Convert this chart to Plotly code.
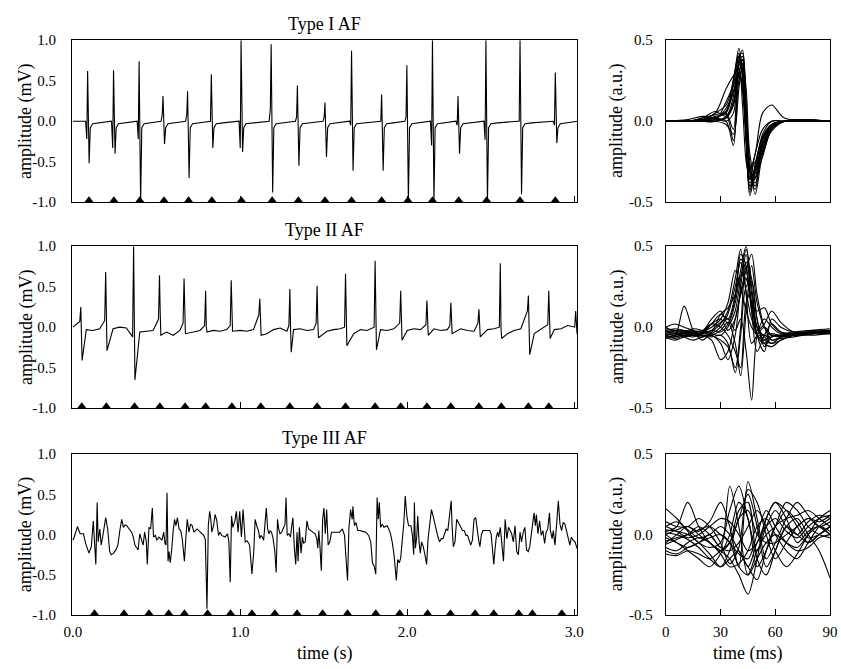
import numpy as np
import plotly.graph_objects as go

FONT = "Liberation Serif"

# ---------------- Type I AF (left) ----------------
t1_beats = [0.088, 0.243, 0.396, 0.539, 0.686, 0.828, 1.006, 1.186, 1.343, 1.508,
            1.667, 1.847, 1.998, 2.151, 2.304, 2.471, 2.675, 2.886]
t1_peak = [0.62, 0.63, 0.74, 0.31, 0.37, 0.58, 1.0, 0.95, 0.44, 0.23,
           0.87, 0.33, 0.69, 1.0, 0.31, 1.0, 1.0, 0.60]
t1_trough = [-0.52, -0.40, -1.0, -0.28, -0.70, -0.33, -0.38, -0.88, -0.55, -0.44,
             -0.61, -0.61, -1.0, -1.0, -0.40, -1.0, -0.90, -0.27]
t1_pre = [-0.22, -0.33, -0.22, 0.07, 0.08, 0.0, -0.33, 0.15, 0.05, 0.05,
          -0.05, 0.0, 0.05, -0.30, -0.05, -0.23, 0.0, -0.05]
t1_tail = [-0.08, -0.03, -0.02]
t1_marks = [0.096, 0.245, 0.400, 0.545, 0.692, 0.831, 1.008, 1.192, 1.349, 1.508,
            1.667, 1.847, 2.004, 2.151, 2.308, 2.475, 2.675, 2.886]

# ---------------- Type II AF (left) ----------------
t2_beats = [0.047, 0.196, 0.363, 0.518, 0.665, 0.794, 0.947, 1.118, 1.298, 1.461,
            1.631, 1.808, 1.961, 2.118, 2.261, 2.429, 2.557, 2.725, 2.847, 3.008]
t2_peak = [0.25, 0.68, 1.0, 0.64, 0.60, 0.45, 0.58, 0.35, 0.47, 0.51,
           0.66, 0.82, 0.45, 0.33, 0.30, 0.22, 0.79, 0.39, 0.45, 0.20]
t2_trough = [-0.41, -0.29, -0.65, -0.10, -0.08, -0.06, -0.05, -0.10, -0.31, -0.13,
             -0.23, -0.28, -0.16, -0.10, -0.08, -0.12, -0.14, -0.34, -0.14, -0.08]
t2_shoulder = [0.0, 0.10, 0.0, 0.20, 0.18, 0.0, 0.0, -0.05, 0.0, 0.08,
               0.03, 0.10, 0.0, 0.03, 0.06, 0.05, 0.0, 0.05, 0.10, 0.0]
t2_pre = [0.07, 0.08, -0.12, 0.10, 0.05, 0.02, 0.02, 0.15, 0.02, 0.05,
          0.0, 0.0, 0.05, 0.03, 0.02, 0.05, 0.0, 0.20, 0.03, 0.0]
t2_baseline = [0.00, 0.05, -0.03, -0.04, -0.02, -0.02, -0.02, 0.00, -0.01, -0.03,
               -0.06, -0.05, -0.04, -0.03, -0.06, -0.10, -0.04, -0.03, -0.06, -0.04,
               -0.03, -0.04, -0.05, -0.03, -0.03, -0.04, -0.05, -0.03, -0.03, -0.08,
               -0.03, -0.01, -0.05, -0.03, -0.02, -0.04, -0.03, -0.03, -0.05, -0.03,
               -0.02, -0.03, -0.08, -0.03, -0.04, -0.03, -0.03, -0.04, -0.02, -0.03,
               -0.04, -0.02, -0.03, -0.03, -0.02, -0.04, -0.03, -0.01, -0.02, -0.04,
               -0.05, -0.06, -0.03, -0.02, -0.03, -0.08, -0.04, -0.02, -0.03, -0.08,
               -0.03, -0.03, -0.03, -0.02, 0.02, -0.06]
t2_marks = [0.053, 0.200, 0.369, 0.520, 0.671, 0.794, 0.951, 1.124, 1.298, 1.461,
            1.631, 1.808, 1.961, 2.118, 2.261, 2.429, 2.563, 2.725, 2.847]

# ---------------- Type III AF (left) : (time s, amplitude mV) ----------------
t3_points = [
    (0.000, -0.07), (0.008, -0.03), (0.027, 0.10), (0.043, 0.01), (0.063, 0.01), (0.076, -0.11),
    (0.096, -0.23), (0.110, -0.15), (0.122, 0.17), (0.129, -0.05), (0.137, -0.37), (0.145, 0.40),
    (0.151, -0.09), (0.161, 0.07), (0.169, -0.13), (0.178, -0.03), (0.184, 0.07), (0.196, 0.21),
    (0.208, 0.07), (0.220, -0.21), (0.229, -0.25), (0.243, -0.23), (0.257, -0.19), (0.269, -0.13),
    (0.282, 0.07), (0.292, 0.19), (0.302, 0.09), (0.312, 0.12), (0.322, 0.11), (0.337, 0.07),
    (0.351, 0.03), (0.361, -0.03), (0.371, -0.13), (0.380, -0.16), (0.390, -0.19), (0.400, 0.01),
    (0.410, -0.05), (0.420, -0.13), (0.429, 0.03), (0.439, -0.09), (0.445, -0.37), (0.455, 0.09),
    (0.465, 0.07), (0.475, 0.33), (0.482, -0.03), (0.494, -0.01), (0.502, -0.07), (0.514, -0.03),
    (0.524, -0.05), (0.533, -0.07), (0.543, 0.03), (0.551, -0.11), (0.557, -0.13), (0.563, 0.52),
    (0.569, -0.33), (0.575, -0.21), (0.582, -0.35), (0.590, -0.21), (0.600, 0.05), (0.608, 0.19),
    (0.616, 0.11), (0.625, 0.21), (0.635, 0.07), (0.645, 0.05), (0.655, -0.07), (0.667, -0.33),
    (0.676, -0.03), (0.684, 0.19), (0.694, 0.03), (0.704, 0.13), (0.714, 0.11), (0.724, 0.03),
    (0.733, 0.05), (0.743, 0.07), (0.753, 0.05), (0.763, 0.03), (0.773, 0.01), (0.782, -0.01),
    (0.792, -0.06), (0.802, -0.92), (0.810, 0.11), (0.818, 0.29), (0.825, 0.19), (0.831, 0.03),
    (0.841, 0.11), (0.851, 0.25), (0.861, 0.17), (0.871, -0.01), (0.880, 0.03), (0.890, -0.01),
    (0.910, -0.03), (0.925, 0.01), (0.933, -0.09), (0.941, -0.59), (0.949, 0.23), (0.957, 0.09),
    (0.969, 0.17), (0.978, 0.29), (0.988, 0.03), (0.998, 0.29), (1.008, -0.03), (1.018, 0.31),
    (1.031, -0.09), (1.043, -0.08), (1.057, -0.13), (1.071, -0.49), (1.082, -0.21), (1.090, 0.19),
    (1.100, 0.11), (1.110, 0.05), (1.118, -0.05), (1.125, -0.01), (1.133, -0.03), (1.141, -0.07),
    (1.149, 0.13), (1.157, 0.33), (1.165, 0.07), (1.173, 0.01), (1.180, 0.05), (1.188, 0.03),
    (1.196, -0.03), (1.208, -0.21), (1.216, -0.47), (1.224, 0.19), (1.231, 0.07), (1.239, 0.01),
    (1.249, 0.03), (1.259, 0.07), (1.269, 0.13), (1.275, 0.46), (1.282, -0.01), (1.292, 0.01),
    (1.302, -0.03), (1.308, 0.09), (1.316, 0.21), (1.325, -0.17), (1.333, -0.37), (1.341, 0.03),
    (1.347, -0.33), (1.355, 0.09), (1.365, -0.23), (1.373, -0.03), (1.380, -0.11), (1.390, -0.09),
    (1.400, 0.17), (1.410, 0.07), (1.420, 0.05), (1.435, 0.03), (1.449, 0.01), (1.459, -0.05),
    (1.465, -0.17), (1.471, 0.05), (1.478, -0.15), (1.486, -0.45), (1.494, 0.19), (1.502, 0.33),
    (1.510, 0.01), (1.518, 0.31), (1.527, -0.13), (1.537, -0.09), (1.547, 0.03), (1.561, 0.03),
    (1.576, 0.03), (1.596, 0.03), (1.612, 0.07), (1.625, -0.01), (1.635, -0.33), (1.643, -0.57),
    (1.651, 0.07), (1.661, 0.31), (1.671, 0.19), (1.675, 0.35), (1.684, 0.11), (1.694, 0.15),
    (1.704, 0.05), (1.718, 0.05), (1.733, 0.04), (1.753, 0.03), (1.769, -0.01), (1.782, -0.09),
    (1.792, -0.35), (1.802, -0.39), (1.812, -0.49), (1.820, 0.46), (1.827, 0.19), (1.833, 0.40),
    (1.841, 0.09), (1.851, 0.13), (1.861, 0.09), (1.880, 0.11), (1.890, 0.07), (1.900, 0.01),
    (1.910, -0.09), (1.920, -0.23), (1.929, -0.43), (1.935, -0.57), (1.943, -0.31), (1.953, -0.35),
    (1.961, -0.29), (1.969, -0.09), (1.980, 0.15), (1.988, 0.48), (1.998, 0.23), (2.008, 0.11),
    (2.022, 0.11), (2.031, -0.01), (2.039, -0.25), (2.043, 0.40), (2.049, -0.17), (2.057, -0.03),
    (2.063, 0.23), (2.071, -0.09), (2.078, -0.23), (2.086, -0.09), (2.096, -0.15), (2.106, -0.25),
    (2.116, -0.37), (2.125, -0.05), (2.135, 0.15), (2.145, 0.31), (2.155, 0.23), (2.165, 0.13),
    (2.175, 0.05), (2.184, -0.03), (2.194, -0.09), (2.204, -0.05), (2.214, -0.05), (2.224, 0.01),
    (2.233, 0.07), (2.243, 0.05), (2.253, 0.23), (2.259, 0.31), (2.263, 0.42), (2.269, 0.09),
    (2.276, -0.15), (2.286, -0.09), (2.296, 0.19), (2.306, 0.15), (2.318, 0.11), (2.331, 0.05),
    (2.341, 0.05), (2.351, -0.01), (2.361, -0.01), (2.371, -0.09), (2.380, -0.13), (2.390, -0.07),
    (2.400, 0.19), (2.410, 0.21), (2.420, 0.03), (2.429, -0.09), (2.435, -0.15), (2.443, -0.01),
    (2.453, 0.05), (2.463, 0.05), (2.478, 0.05), (2.494, 0.05), (2.502, 0.01), (2.510, -0.17),
    (2.518, -0.37), (2.525, -0.19), (2.533, -0.03), (2.541, 0.03), (2.547, -0.03), (2.557, 0.09),
    (2.567, -0.13), (2.576, -0.33), (2.586, 0.19), (2.596, -0.05), (2.606, 0.09), (2.616, 0.05),
    (2.625, 0.01), (2.635, -0.09), (2.645, 0.11), (2.655, -0.21), (2.665, -0.25), (2.675, 0.03),
    (2.684, -0.09), (2.694, 0.03), (2.704, 0.09), (2.714, -0.19), (2.724, -0.21), (2.733, -0.15),
    (2.743, 0.03), (2.753, 0.23), (2.759, 0.27), (2.767, 0.11), (2.773, 0.25), (2.782, 0.01),
    (2.792, 0.17), (2.802, -0.01), (2.812, 0.05), (2.822, -0.11), (2.831, 0.03), (2.841, 0.07),
    (2.851, 0.27), (2.857, 0.05), (2.867, -0.05), (2.874, 0.05), (2.884, -0.13), (2.894, 0.13),
    (2.904, 0.42), (2.914, 0.13), (2.924, 0.05), (2.933, 0.15), (2.943, 0.13), (2.953, 0.05),
    (2.963, -0.05), (2.973, -0.13), (2.982, -0.03), (2.992, -0.07), (3.004, -0.09), (3.016, -0.17),
]
t3_marks = [0.129, 0.306, 0.455, 0.573, 0.667, 0.806, 0.943, 1.071, 1.208, 1.341, 1.494,
            1.643, 1.812, 1.955, 2.122, 2.259, 2.406, 2.518, 2.667, 2.749, 2.925]

# ---------------- Right panels: superimposed activations (a.u.) ----------------
r1_times = [0, 12, 20, 27, 33, 37, 40, 42, 44, 46, 49, 53, 58, 65, 90]
r1_curves = [
    [0, 0, 0.01, 0.05, 0.10, 0.25, 0.45, 0.30, -0.10, -0.46, -0.30, -0.10, -0.02, 0, 0],
    [0, 0, 0.02, 0.06, 0.03, 0.15, 0.40, 0.42, 0.0, -0.40, -0.35, -0.12, -0.03, 0, 0],
    [0, 0, 0.0, 0.02, 0.05, -0.05, 0.35, 0.38, 0.05, -0.35, -0.38, -0.15, -0.03, 0, 0],
    [0, 0.01, 0.03, 0.02, 0.0, -0.15, 0.30, 0.35, -0.05, -0.30, -0.25, -0.20, -0.05, 0, 0],
    [0, 0, 0.0, 0.0, 0.12, 0.22, 0.30, 0.20, -0.15, -0.40, -0.28, -0.08, 0.0, 0, 0],
    [0, 0, 0.01, 0.05, 0.20, 0.28, 0.32, 0.10, -0.25, -0.35, -0.20, -0.05, 0, 0, 0],
    [0, 0, 0.0, 0.01, 0.02, 0.10, 0.38, 0.44, 0.10, -0.25, -0.45, -0.20, -0.05, 0, 0],
    [0, 0, 0.0, 0.0, -0.02, -0.08, 0.20, 0.36, 0.20, -0.20, -0.35, -0.22, -0.05, 0, 0],
    [0, 0, 0.02, 0.04, 0.06, 0.18, 0.28, 0.25, -0.05, -0.30, -0.20, 0.05, 0.10, 0.02, 0],
    [0, 0, 0.0, 0.03, 0.05, 0.22, 0.40, 0.33, -0.05, -0.38, -0.32, -0.18, -0.04, 0, 0],
    [0, 0, 0.01, 0.02, 0.0, 0.05, 0.36, 0.40, 0.05, -0.32, -0.40, -0.10, -0.02, 0, 0],
    [0, 0, 0.0, 0.01, 0.08, 0.18, 0.30, 0.20, -0.10, -0.42, -0.30, -0.14, -0.03, 0, 0],
    [0, 0, 0.0, 0.0, 0.03, 0.10, 0.35, 0.30, 0.0, -0.28, -0.35, -0.18, -0.06, 0, 0],
    [0, 0, 0.01, 0.02, 0.06, 0.26, 0.42, 0.25, -0.08, -0.44, -0.26, -0.10, -0.02, 0, 0],
    [0, 0, 0.0, 0.02, 0.04, -0.12, 0.25, 0.32, -0.02, -0.36, -0.30, -0.16, -0.04, 0, 0],
    [0, 0, 0.0, 0.0, 0.02, 0.12, 0.30, 0.38, 0.05, -0.30, -0.42, -0.12, -0.02, 0, 0],
]

r2_times = [0, 5, 10, 15, 20, 25, 30, 34, 38, 41, 44, 47, 50, 54, 58, 63, 70, 80, 90]
r2_curves = [
    [-0.02, -0.05, 0.13, -0.02, -0.08, -0.03, 0.02, 0.10, 0.30, 0.48, 0.20, -0.10, -0.05, 0.0, -0.05, -0.05, -0.04, -0.03, -0.02],
    [0.0, -0.03, -0.05, -0.05, -0.03, 0.05, 0.10, 0.02, 0.15, 0.35, 0.50, 0.20, -0.05, -0.10, -0.06, -0.05, -0.04, -0.03, -0.03],
    [-0.05, -0.06, -0.04, -0.02, -0.05, -0.05, -0.10, -0.20, -0.05, 0.25, 0.45, 0.10, -0.15, -0.05, 0.02, -0.03, -0.05, -0.04, -0.02],
    [-0.03, -0.02, -0.03, -0.05, -0.04, -0.02, 0.03, 0.05, -0.02, 0.05, -0.15, -0.45, -0.05, 0.05, 0.0, -0.04, -0.03, -0.02, -0.02],
    [-0.06, -0.08, -0.06, -0.05, -0.03, 0.0, 0.05, 0.15, 0.35, 0.25, 0.10, 0.0, -0.05, -0.08, -0.05, -0.06, -0.05, -0.04, -0.03],
    [0.0, 0.02, 0.0, -0.02, -0.03, -0.05, -0.08, -0.12, -0.25, 0.0, 0.40, 0.30, 0.05, -0.10, -0.12, -0.08, -0.05, -0.05, -0.04],
    [-0.04, -0.03, -0.05, -0.06, -0.04, 0.02, 0.08, 0.05, 0.20, 0.42, 0.35, 0.15, 0.10, 0.12, 0.02, -0.03, -0.04, -0.03, -0.02],
    [-0.02, -0.04, -0.03, -0.01, -0.02, -0.04, -0.05, 0.0, 0.10, 0.30, 0.48, 0.25, -0.05, -0.15, 0.05, 0.0, -0.03, -0.03, -0.02],
    [-0.05, -0.04, -0.06, -0.08, -0.06, -0.05, -0.02, 0.03, -0.10, -0.30, 0.10, 0.38, 0.15, 0.0, -0.05, -0.06, -0.05, -0.04, -0.03],
    [-0.03, -0.02, -0.02, -0.03, -0.05, -0.08, -0.20, -0.15, 0.05, 0.20, 0.30, 0.15, 0.0, -0.08, -0.10, -0.06, -0.04, -0.03, -0.02],
    [-0.06, -0.05, -0.03, -0.05, -0.05, -0.04, 0.0, 0.08, 0.25, 0.40, 0.22, 0.05, -0.02, 0.02, 0.10, 0.03, -0.03, -0.04, -0.03],
    [-0.01, -0.02, -0.04, -0.04, -0.03, 0.02, 0.05, -0.02, 0.05, 0.22, 0.35, 0.45, 0.20, 0.0, -0.08, -0.06, -0.04, -0.03, -0.02],
    [-0.04, -0.05, -0.04, -0.03, -0.05, -0.06, -0.05, -0.10, -0.28, -0.05, 0.25, 0.28, 0.05, -0.12, -0.06, -0.05, -0.05, -0.04, -0.03],
    [-0.07, -0.06, -0.05, -0.05, -0.06, -0.03, 0.08, 0.12, 0.20, 0.32, 0.30, 0.10, -0.05, -0.05, -0.08, -0.07, -0.06, -0.04, -0.04],
    [-0.02, -0.01, -0.02, -0.04, -0.04, -0.02, -0.03, 0.02, 0.18, 0.45, 0.38, 0.12, 0.0, -0.05, -0.04, -0.05, -0.04, -0.02, -0.01],
    [-0.05, -0.07, -0.05, -0.03, -0.02, 0.02, 0.0, -0.05, -0.15, -0.25, 0.15, 0.22, 0.0, -0.06, -0.10, -0.08, -0.05, -0.04, -0.03],
]

r3_times = [0, 6, 12, 18, 24, 30, 35, 40, 45, 50, 55, 60, 66, 72, 78, 84, 90]
r3_curves = [
    [0.16, 0.10, 0.02, -0.05, -0.08, -0.05, 0.15, 0.30, 0.10, -0.10, 0.05, 0.15, 0.05, 0.00, 0.08, 0.12, 0.10],
    [0.02, 0.05, 0.20, 0.05, -0.05, -0.10, -0.15, -0.25, -0.37, -0.15, 0.10, 0.20, 0.10, -0.05, 0.02, 0.05, 0.00],
    [-0.05, 0.00, 0.05, 0.02, 0.08, 0.20, 0.05, -0.20, 0.33, 0.10, -0.15, -0.05, 0.10, 0.20, 0.12, 0.05, 0.08],
    [-0.12, -0.13, -0.10, -0.12, -0.15, -0.10, -0.05, 0.10, 0.25, 0.05, -0.20, -0.10, 0.05, 0.00, -0.05, 0.00, 0.05],
    [0.03, 0.02, 0.00, -0.05, -0.12, -0.20, -0.15, -0.10, -0.20, -0.05, 0.05, 0.10, 0.02, -0.02, 0.05, 0.10, 0.12],
    [-0.02, -0.05, -0.08, -0.05, 0.00, -0.08, 0.30, 0.05, -0.25, -0.10, 0.00, 0.05, 0.15, 0.08, -0.02, 0.00, 0.05],
    [0.00, 0.03, 0.05, 0.00, -0.05, -0.12, -0.20, -0.18, -0.10, 0.05, 0.10, 0.00, -0.10, -0.15, -0.05, 0.05, 0.10],
    [-0.08, -0.10, -0.05, -0.02, -0.05, -0.10, -0.05, 0.15, 0.20, -0.15, -0.25, -0.10, 0.05, 0.10, 0.00, -0.10, -0.27],
    [0.05, 0.08, 0.03, -0.02, 0.00, 0.05, 0.00, -0.10, -0.20, -0.28, -0.10, 0.05, 0.10, 0.12, 0.15, 0.10, 0.05],
    [-0.04, -0.02, 0.00, 0.03, 0.05, 0.00, -0.05, -0.12, -0.15, 0.00, 0.15, 0.05, -0.05, -0.10, -0.08, -0.02, 0.00],
    [0.00, -0.05, -0.10, -0.15, -0.20, -0.12, 0.00, 0.20, 0.10, -0.20, -0.10, 0.05, 0.20, 0.15, 0.05, 0.00, -0.02],
    [0.08, 0.05, 0.05, 0.10, 0.05, -0.05, -0.18, -0.08, 0.28, 0.20, 0.00, -0.15, -0.05, 0.05, 0.10, 0.08, 0.12],
    [-0.10, -0.12, -0.08, -0.05, -0.02, 0.00, -0.05, -0.20, -0.25, -0.15, -0.05, 0.00, -0.05, -0.08, 0.00, 0.05, 0.02],
    [0.05, 0.02, -0.02, 0.00, 0.05, 0.10, 0.08, 0.00, -0.10, -0.05, 0.10, 0.20, 0.15, 0.05, -0.05, 0.00, 0.05],
    [-0.06, -0.03, 0.00, 0.05, 0.00, -0.08, -0.10, -0.05, 0.05, 0.15, 0.05, -0.10, -0.20, -0.12, 0.00, 0.10, 0.15],
    [0.01, 0.00, -0.03, -0.08, -0.15, -0.20, -0.10, 0.10, 0.15, 0.00, -0.05, -0.05, 0.00, 0.05, 0.10, 0.05, 0.00],
]

row_titles = ["Type I AF", "Type II AF", "Type III AF"]
left_ytick_vals = [-1.0, -0.5, 0.0, 0.5, 1.0]
left_ytick_text = ["-1.0", "-0.5", "0.0", "0.5", "1.0"]
right_ytick_vals = [-0.5, 0.0, 0.5]
right_ytick_text = ["-0.5", "0.0", "0.5"]
left_xtick_vals = [0.0, 1.0, 2.0, 3.0]
left_xtick_text = ["0.0", "1.0", "2.0", "3.0"]
right_xtick_vals = [0, 30, 60, 90]
right_xtick_text = ["0", "30", "60", "90"]

# ---------------- build traces ----------------
def build_type1():
    ts, vs = [0.0], [0.0]
    for t0, pk, tr, pre in zip(t1_beats, t1_peak, t1_trough, t1_pre):
        ts += [t0 - 0.012, t0 - 0.005, t0, t0 + 0.009, t0 + 0.016, t0 + 0.03, t0 + 0.07]
        vs += [0.0, pre, pk, tr] + t1_tail
    ts.append(3.02)
    vs.append(0.0)
    return ts, vs


def build_type2():
    base_t = np.round(np.arange(len(t2_baseline)) * 0.04, 3)
    pts = []
    for bt, bv in zip(base_t, t2_baseline):
        if all(not (t0 - 0.014 < bt < t0 + 0.02) for t0 in t2_beats):
            pts.append((bt, bv))
    for t0, pk, tr, sh, pre in zip(t2_beats, t2_peak, t2_trough, t2_shoulder, t2_pre):
        pts += [(t0 - 0.006, pre), (t0, pk), (t0 + 0.004, sh), (t0 + 0.008, tr)]
    pts.sort()
    return [p[0] for p in pts], [p[1] for p in pts]


fig = go.Figure()
LINE = dict(color="black", width=1.1)
MARK = dict(symbol="triangle-up", size=8, color="black")
ROW_PX = 166.0
mark_y = -1.0 + 2.0 * 2.0 / ROW_PX

left_data = [build_type1(), build_type2(), ([p[0] for p in t3_points], [p[1] for p in t3_points])]
marks = [t1_marks, t2_marks, t3_marks]
right_sets = [(r1_times, r1_curves), (r2_times, r2_curves), (r3_times, r3_curves)]

for i in range(3):
    xl, yl = ("x" if i == 0 else f"x{2*i+1}"), ("y" if i == 0 else f"y{2*i+1}")
    xr, yr = f"x{2*i+2}", f"y{2*i+2}"
    lt, lv = left_data[i]
    fig.add_trace(go.Scatter(x=lt, y=lv, mode="lines", line=LINE, xaxis=xl, yaxis=yl,
                             showlegend=False, hoverinfo="skip"))
    fig.add_trace(go.Scatter(x=marks[i], y=[mark_y] * len(marks[i]), mode="markers",
                             marker=MARK, xaxis=xl, yaxis=yl, showlegend=False,
                             cliponaxis=False, hoverinfo="skip"))
    times, curves = right_sets[i]
    for c in curves:
        fig.add_trace(go.Scatter(x=times, y=c, mode="lines",
                                 line=dict(color="black", width=1.1, shape="spline", smoothing=0.9),
                                 xaxis=xr, yaxis=yr, showlegend=False, hoverinfo="skip"))

# ---------------- layout ----------------
W, H = 841, 669
left_dom = [65 / W, 579 / W]
right_dom = [669 / W, 836 / W]
rows_px = [(33, 199), (244, 410), (457, 622)]
tickfont = dict(family=FONT, size=15, color="black")

layout = dict(width=W, height=H, margin=dict(l=0, r=0, t=0, b=0),
              paper_bgcolor="white", plot_bgcolor="white", showlegend=False,
              font=dict(family=FONT, color="black"))
annotations = []
for i, (top, bot) in enumerate(rows_px):
    ydom = [1 - bot / H, 1 - top / H]
    last = i == 2
    kxl = "xaxis" if i == 0 else f"xaxis{2*i+1}"
    kyl = "yaxis" if i == 0 else f"yaxis{2*i+1}"
    kxr, kyr = f"xaxis{2*i+2}", f"yaxis{2*i+2}"
    al = "y" if i == 0 else f"y{2*i+1}"
    axl = "x" if i == 0 else f"x{2*i+1}"
    common_x = dict(ticks="inside", ticklen=6, tickwidth=1, tickcolor="black", showline=True,
                    linecolor="black", linewidth=1, mirror=True, showgrid=False, zeroline=False,
                    tickfont=tickfont, showticklabels=last, ticklabelstandoff=3)
    common_y = dict(ticks="", showline=True, linecolor="black", linewidth=1, mirror=True,
                    showgrid=False, zeroline=False, tickfont=tickfont)
    layout[kxl] = dict(domain=left_dom, range=[-0.006, 3.018], tickvals=left_xtick_vals,
                       ticktext=left_xtick_text, anchor=al, **common_x)
    layout[kyl] = dict(domain=ydom, range=[-1, 1], tickvals=left_ytick_vals,
                       ticktext=left_ytick_text, anchor=axl, ticklabelstandoff=12, **common_y)
    layout[kxr] = dict(domain=right_dom, range=[0, 90], tickvals=right_xtick_vals,
                       ticktext=right_xtick_text, anchor=f"y{2*i+2}", **common_x)
    layout[kyr] = dict(domain=ydom, range=[-0.5, 0.5], tickvals=right_ytick_vals,
                       ticktext=right_ytick_text, anchor=f"x{2*i+2}", ticklabelstandoff=9, **common_y)
    # row title
    annotations.append(dict(text=row_titles[i], xref="paper", yref="paper",
                            x=(left_dom[0] + left_dom[1]) / 2, y=ydom[1], xanchor="center",
                            yanchor="bottom", yshift=4, showarrow=False,
                            font=dict(family=FONT, size=18, color="black")))
    # y titles
    yc = (ydom[0] + ydom[1]) / 2
    annotations.append(dict(text="amplitude (mV)", xref="paper", yref="paper", x=18 / W, y=yc,
                            xanchor="center", yanchor="middle", textangle=-90, showarrow=False,
                            font=dict(family=FONT, size=18, color="black")))
    annotations.append(dict(text="amplitude (a.u.)", xref="paper", yref="paper", x=619 / W, y=yc,
                            xanchor="center", yanchor="middle", textangle=-90, showarrow=False,
                            font=dict(family=FONT, size=18, color="black")))

annotations.append(dict(text="time (s)", xref="paper", yref="paper",
                        x=(left_dom[0] + left_dom[1]) / 2, y=1 - 648 / H, xanchor="center",
                        yanchor="top", showarrow=False, font=dict(family=FONT, size=18, color="black")))
annotations.append(dict(text="time (ms)", xref="paper", yref="paper",
                        x=(right_dom[0] + right_dom[1]) / 2, y=1 - 648 / H, xanchor="center",
                        yanchor="top", showarrow=False, font=dict(family=FONT, size=18, color="black")))
layout["annotations"] = annotations
fig.update_layout(**layout)
fig.write_html("out.html")
